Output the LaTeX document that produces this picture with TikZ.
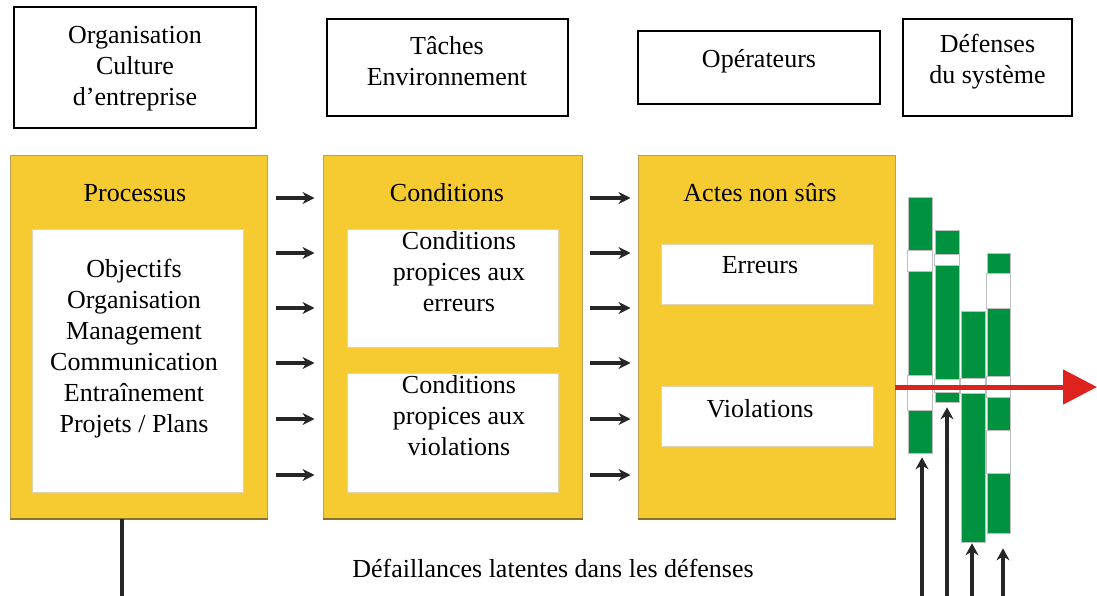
\documentclass[tikz,border=0pt]{standalone}
\usepackage{fontspec}
\setmainfont{Liberation Serif}
\usetikzlibrary{arrows.meta}

\definecolor{gold}{RGB}{246,203,50}
\definecolor{goldline}{RGB}{190,160,80}
\definecolor{goldshade}{RGB}{140,115,45}
\definecolor{bargreen}{RGB}{0,146,63}
\definecolor{redline}{RGB}{222,35,30}

\newcommand{\DrawGap}[3]{
	\path[gap] (#1.west |- 0,#2) rectangle (#1.east |- 0,#3);
}

\begin{document}
\begin{tikzpicture}[x=1pt, y=-1pt,
	every node/.style={font=\fontsize{26}{31}\selectfont},
	topbox/.style={rectangle, draw=black, line width=1.8pt, inner sep=0pt},
	yellowbox/.style={rectangle, draw=goldline, fill=gold, line width=1pt, inner sep=0pt, minimum width=257pt, minimum height=362pt},
	whitebox/.style={rectangle, draw=goldline!45, fill=white, line width=0.6pt, inner sep=0pt, minimum width=211pt},
	flow/.style={-{Stealth[length=12pt, width=12pt]}, line width=3.5pt, draw=black!85},
	defbar/.style={rectangle, draw=black!25, fill=bargreen, line width=0.6pt, inner sep=0pt, minimum width=24pt},
	gap/.style={fill=white, draw=black!25, line width=0.6pt},
	uparrow/.style={-{Stealth[length=12pt, width=13pt]}, line width=3.5pt, draw=black!85},
	redarrow/.style={-{Triangle[length=34pt, width=34pt]}, line width=5pt, draw=redline},
]

\useasboundingbox (0,0) rectangle (1097,596);

% top row
\node (org) at (135, 67.5) [topbox, minimum width=242pt, minimum height=121pt] {};
\node (tach) at (447.5, 67.5) [topbox, minimum width=241pt, minimum height=97pt] {};
\node (oper) at (759, 67.5) [topbox, minimum width=242pt, minimum height=73pt] {};
\node (def) at (987.5, 67.5) [topbox, minimum width=169pt, minimum height=97pt] {};
\node (orgtext) at (135, 69) [align=center] {Organisation\\Culture\\d'entreprise};
\node (tachtext) at (447, 61) [align=center] {Tâches\\Environnement};
\node (opertext) at (759, 61) {Opérateurs};
\node (deftext) at (987.5, 62) [align=center] {Défenses\\du système};

% yellow blocks
\node (proc) at (138.5, 337) [yellowbox] {};
\node (cond) at (452.5, 337) [yellowbox, minimum width=259pt] {};
\node (actes) at (766.5, 337) [yellowbox] {};
\foreach \b in {proc, cond, actes}
	\draw[goldshade, line width=2pt] (\b.south west) -- (\b.south east);

\node (proctitle) at (135, 202) [anchor=base] {Processus};
\node (condtitle) at (447, 202) [anchor=base] {Conditions};
\node (actestitle) at (760, 202) [anchor=base] {Actes non sûrs};

\node (procin) at (137.5, 360.5) [whitebox, minimum height=263pt] {};
\node (proctext) at (134, 349) [align=center] {Objectifs\\Organisation\\Management\\Communication\\Entraînement\\Projets / Plans};

\node (conderr) at (452.5, 288) [whitebox, minimum height=118pt] {};
\node (condviol) at (452.5, 432.5) [whitebox, minimum height=119pt] {};
\node (conderrtext) at (459, 271.5) [align=center] {Conditions\\propices aux\\erreurs};
\node (condvioltext) at (459, 415.5) [align=center] {Conditions\\propices aux\\violations};

\node (err) at (767, 274) [whitebox, minimum width=212pt, minimum height=60pt] {};
\node (viol) at (767, 416) [whitebox, minimum width=212pt, minimum height=60pt] {};
\node (errtext) at (760, 273) [anchor=base] {Erreurs};
\node (violtext) at (760, 417) [anchor=base] {Violations};

\foreach \y in {198,253,308,363,419,475} {
	\draw[flow] ([xshift=8pt]proc.east |- 0,\y) -- ([xshift=-8pt]cond.west |- 0,\y);
	\draw[flow] ([xshift=7pt]cond.east |- 0,\y) -- ([xshift=-7pt]actes.west |- 0,\y);
}

% defences
\node (bar1) at (920, 325) [defbar, minimum height=256pt] {};
\node (bar2) at (947, 316) [defbar, minimum height=172pt] {};
\node (bar3) at (973, 426.5) [defbar, minimum height=231pt] {};
\node (bar4) at (998.5, 393) [defbar, minimum width=23pt, minimum height=280pt] {};
\DrawGap{bar1}{250}{271}
\DrawGap{bar1}{375}{410}
\DrawGap{bar2}{254}{265}
\DrawGap{bar2}{379}{392}
\DrawGap{bar3}{378}{393}
\DrawGap{bar4}{273}{308}
\DrawGap{bar4}{376}{397}
\DrawGap{bar4}{430}{473}

\coordinate (hazard) at (895, 387);
\coordinate (loss) at (1097, 387);
\draw[redarrow] (hazard) -- (loss);

\coordinate (u1) at (922, 596);
\coordinate (u2) at (947, 596);
\coordinate (u3) at (972, 596);
\coordinate (u4) at (1003, 596);
\draw[uparrow, shorten >=4pt] (u1) -- (u1 |- bar1.south);
\draw[uparrow, shorten >=5pt] (u2) -- (u2 |- bar2.south);
\draw[uparrow, shorten >=1pt] (u3) -- (u3 |- bar3.south);
\draw[uparrow, shorten >=15pt] (u4) -- (u4 |- bar4.south);

\coordinate (latent) at (122, 596);
\draw[line width=3.5pt, black!85] (proc.south -| latent) -- (latent);
\node (latenttext) at (553, 577) [anchor=base] {Défaillances latentes dans les défenses};

\end{tikzpicture}
\end{document}
